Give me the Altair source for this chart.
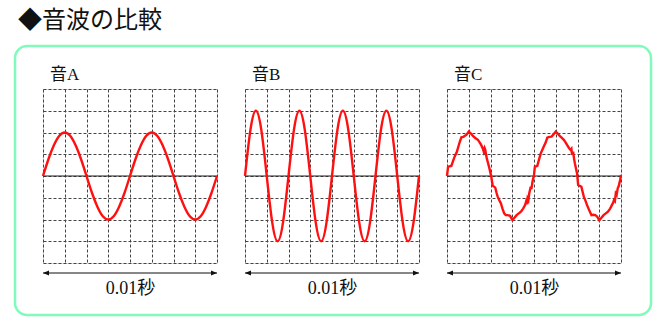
import altair as alt
import pandas as pd

# ---- data (x in grid columns, y in grid rows) ----
T_SMOOTH = [0, 0.25, 0.5, 0.75, 1, 1.25, 1.5, 1.75, 2, 2.25, 2.5, 2.75, 3, 3.25, 3.5, 3.75,
            4, 4.25, 4.5, 4.75, 5, 5.25, 5.5, 5.75, 6, 6.25, 6.5, 6.75, 7, 7.25, 7.5, 7.75, 8]
A_Y = [0, 0.77, 1.41, 1.85, 2, 1.85, 1.41, 0.77, 0, -0.77, -1.41, -1.85, -2, -1.85, -1.41, -0.77,
       0, 0.77, 1.41, 1.85, 2, 1.85, 1.41, 0.77, 0, -0.77, -1.41, -1.85, -2, -1.85, -1.41, -0.77, 0]
B_Y = [0, 2.12, 3, 2.12, 0, -2.12, -3, -2.12, 0, 2.12, 3, 2.12, 0, -2.12, -3, -2.12,
       0, 2.12, 3, 2.12, 0, -2.12, -3, -2.12, 0, 2.12, 3, 2.12, 0, -2.12, -3, -2.12, 0]
C_T = [0.00, 0.05, 0.20, 0.28, 0.35, 0.45, 0.50, 0.58, 0.66, 0.75, 0.81, 0.90, 1.00, 1.10, 1.19,
       1.30, 1.42, 1.50, 1.57, 1.65, 1.69, 1.73, 1.76, 1.80, 1.83, 1.88, 1.95, 2.03, 2.10, 2.16,
       2.22, 2.28, 2.33, 2.40, 2.48, 2.55, 2.63, 2.70, 2.79, 2.90, 3.01, 3.10, 3.20, 3.30, 3.40,
       3.50, 3.59, 3.63, 3.66, 3.70, 3.74, 3.78, 3.85, 3.88, 3.93, 4.00, 4.04, 4.15, 4.22, 4.31,
       4.38, 4.46, 4.54, 4.61, 4.70, 4.81, 4.90, 5.00, 5.09, 5.18, 5.27, 5.37, 5.45, 5.52, 5.60,
       5.68, 5.72, 5.75, 5.80, 5.84, 5.88, 5.93, 5.98, 6.03, 6.10, 6.18, 6.24, 6.29, 6.36, 6.44,
       6.54, 6.64, 6.72, 6.82, 6.90, 7.00, 7.10, 7.20, 7.30, 7.40, 7.50, 7.58, 7.64, 7.68, 7.72,
       7.76, 7.80, 7.85, 7.90, 7.96, 8.00]
C_Y = [0.00, 0.43, 0.46, 0.70, 0.89, 1.10, 1.27, 1.55, 1.78, 1.80, 1.84, 1.90, 2.04, 1.95, 1.84,
       1.75, 1.66, 1.55, 1.43, 1.25, 1.12, 1.28, 1.20, 0.95, 0.81, 0.62, 0.35, 0.00, -0.45, -0.48,
       -0.54, -0.78, -0.95, -1.10, -1.26, -1.50, -1.72, -1.80, -1.80, -1.83, -2.03, -1.92, -1.80, -1.72, -1.64,
       -1.50, -1.34, -1.20, -1.30, -1.03, -1.12, -0.80, -0.49, -0.60, -0.26, 0.05, 0.43, 0.46, 0.72, 1.04,
       1.20, 1.38, 1.55, 1.76, 1.80, 1.81, 1.92, 2.04, 1.95, 1.84, 1.76, 1.66, 1.55, 1.43, 1.30,
       1.20, 1.25, 0.97, 1.12, 0.80, 0.58, 0.35, 0.12, -0.41, -0.45, -0.50, -0.75, -0.95, -1.12, -1.34,
       -1.58, -1.80, -1.78, -1.80, -1.86, -2.03, -1.92, -1.80, -1.72, -1.64, -1.50, -1.34, -1.22, -1.10, -1.15,
       -0.80, -0.86, -0.57, -0.45, -0.18, 0.05]

PANEL_TITLES = ["音A", "音B", "音C"]
SPAN_LABEL = "0.01秒"
MAIN_TITLE = "◆音波の比較"
GRID_X = [0, 1, 2, 3, 4, 5, 6, 7, 8]
GRID_Y = [-4, -3, -2, -1, 0, 1, 2, 3, 4]

FONT = "'Liberation Serif', 'Noto Sans CJK JP'"
W, H = 174, 174
ARROW_Y = 184
one = pd.DataFrame({"k": [0]})

X_SCALE = alt.Scale(domain=[0, 8], nice=False, zero=False)
Y_SCALE = alt.Scale(domain=[-4, 4], nice=False, zero=False)
X_AXIS = alt.Axis(values=GRID_X, tickCount=9, grid=True, gridDash=[3, 2], gridColor="#444",
                  gridWidth=1, labels=False, ticks=False, domain=False,
                  title=SPAN_LABEL, titleFont=FONT, titleFontSize=18,
                  titleFontWeight="normal", titleColor="#111", titlePadding=16)
Y_AXIS = alt.Axis(values=GRID_Y, tickCount=9, grid=True, gridDash=[3, 2], gridColor="#444",
                  gridWidth=1, labels=False, ticks=False, domain=False, title="")


def xd(v):
    return alt.XDatum(v, scale=X_SCALE, axis=X_AXIS)


def yd(v):
    return alt.YDatum(v, scale=Y_SCALE, axis=Y_AXIS)


def panel(ts, ys, title, interp, first=False):
    df = pd.DataFrame({"t": ts, "v": ys})
    xs = alt.X("t:Q", scale=X_SCALE, axis=X_AXIS)
    ys_ = alt.Y("v:Q", scale=Y_SCALE, axis=Y_AXIS)
    wave = alt.Chart(df).mark_line(color="#ff1010", strokeWidth=2.4,
                                   interpolate=interp).encode(x=xs, y=ys_)
    zero = alt.Chart(one).mark_rule(color="#222", strokeWidth=1.2).encode(
        x=xd(0), x2=alt.X2Datum(8), y=yd(0))
    arrow = alt.Chart(one).mark_rule(color="#111", strokeWidth=1.2).encode(
        x=xd(0), x2=alt.X2Datum(8), y=alt.value(ARROW_Y))
    head_l = alt.Chart(one).mark_point(shape="M0,0L1.5,-0.6L1.5,0.6Z", filled=True, size=64,
                                       color="#111", opacity=1).encode(
        x=xd(0), y=alt.value(ARROW_Y))
    head_r = alt.Chart(one).mark_point(shape="M0,0L-1.5,-0.6L-1.5,0.6Z", filled=True, size=64,
                                       color="#111", opacity=1).encode(
        x=xd(8), y=alt.value(ARROW_Y))
    label = alt.Chart(one).mark_text(text=title, align="left", baseline="alphabetic",
                                     font=FONT, fontSize=17, color="#111").encode(
        x=alt.value(7), y=alt.value(-9))
    layers = [zero, wave, arrow, head_l, head_r, label]
    if first:
        border = alt.Chart(one).mark_rect(filled=False, stroke="#80fbbb", strokeWidth=2.5,
                                          cornerRadius=12).encode(
            x=alt.value(-28), x2=alt.value(608), y=alt.value(-43), y2=alt.value(226))
        heading = alt.Chart(one).mark_text(text=MAIN_TITLE, align="left", baseline="top",
                                           font=FONT, fontSize=24, color="#111").encode(
            x=alt.value(-25), y=alt.value(-80))
        layers = [border, heading] + layers
    return alt.layer(*layers).properties(width=W, height=H)


chart = alt.hconcat(
    panel(T_SMOOTH, A_Y, PANEL_TITLES[0], "natural", first=True),
    panel(T_SMOOTH, B_Y, PANEL_TITLES[1], "natural"),
    panel(C_T, C_Y, PANEL_TITLES[2], "linear"),
    spacing=28, bounds="flush",
).properties(
    padding={"left": 13, "top": 8, "right": 5, "bottom": 5},
).configure_view(stroke=None).configure(background="white")

chart.save("out.html", embed_options={"renderer": "svg", "actions": False})
